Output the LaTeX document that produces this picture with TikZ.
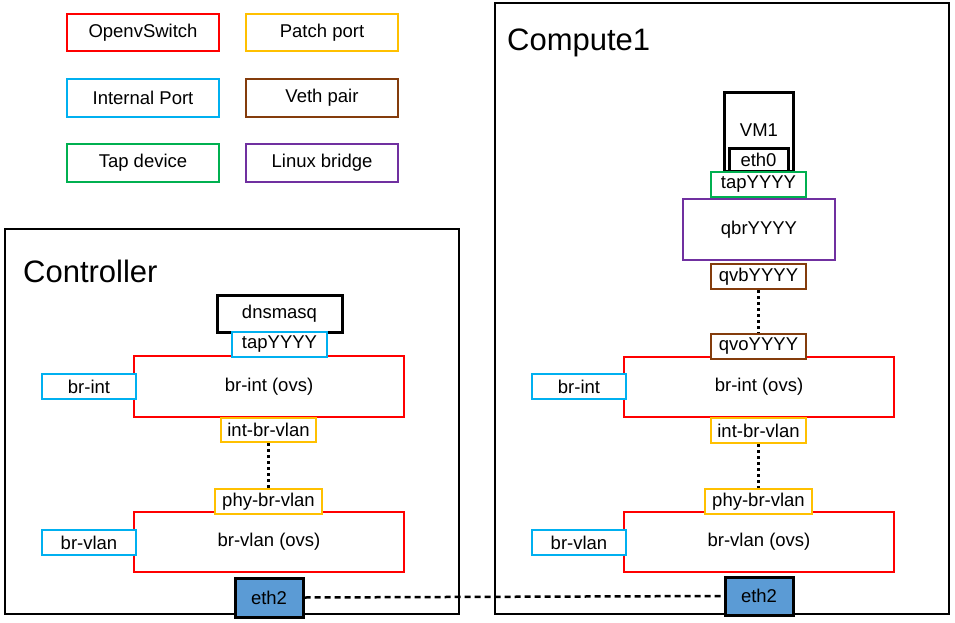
\documentclass[tikz,border=0pt]{standalone}
\usepackage{fontspec}
\setmainfont{Liberation Sans}
\definecolor{cred}{HTML}{FF0000}
\definecolor{cyel}{HTML}{FFC000}
\definecolor{cblue}{HTML}{00B0F0}
\definecolor{cbrown}{HTML}{843C0C}
\definecolor{cgreen}{HTML}{00B050}
\definecolor{cpurple}{HTML}{7030A0}
\definecolor{cfill}{HTML}{5B9BD5}
\begin{document}
\begin{tikzpicture}[x=1pt,y=-1pt,
  bx/.style={draw,rectangle,inner sep=0pt,line width=2.8pt,fill=white,
    font=\fontsize{18.5}{20}\selectfont},
  hostbox/.style={draw,rectangle,inner sep=0pt,line width=2.6pt},
  title/.style={font=\fontsize{31}{34}\selectfont,anchor=base west,inner sep=0pt},
  dotline/.style={line width=3pt,dash pattern=on 3pt off 3pt},
  dashline/.style={line width=2.5pt,dash pattern=on 6pt off 4pt}]
\useasboundingbox (0,0) rectangle (955,623);
% legend
\node[bx,draw=cred,minimum width=152pt,minimum height=37pt] (l1) at (143,32.5) {OpenvSwitch};
\node[bx,draw=cyel,minimum width=152pt,minimum height=37pt] (l2) at (322,32.5) {Patch port};
\node[bx,draw=cblue,minimum width=152pt,minimum height=38pt] (l3) at (143,98) {Internal Port};
\node[bx,draw=cbrown,minimum width=152pt,minimum height=38pt] (l4) at (322,98) {Veth pair};
\node[bx,draw=cgreen,minimum width=152pt,minimum height=38pt] (l5) at (143,163) {Tap device};
\node[bx,draw=cpurple,minimum width=152pt,minimum height=38pt] (l6) at (322,163) {Linux bridge};
% Controller
\node[hostbox,minimum width=454pt,minimum height=385pt] (ctrl) at (232,421.5) {};
\node[title] (ctrltitle) at (23,282) {Controller};
\node[bx,draw=black,line width=3pt,minimum width=125pt,minimum height=37pt] (dns) at (279.5,313.5) {dnsmasq};
\node[bx,draw=cred,minimum width=270pt,minimum height=61pt] (cbrint) at (269,386.5) {br-int (ovs)};
\node[bx,draw=cblue,minimum width=95pt,minimum height=25pt] (ctap) at (279.5,344.5) {tapYYYY};
\node[bx,draw=cblue,minimum width=94pt,minimum height=25pt] (cbrintp) at (89,386.5) {br-int};
\node[bx,draw=cyel,minimum width=95pt,minimum height=24pt] (cintbr) at (268.5,430) {int-br-vlan};
\node[bx,draw=cred,minimum width=270pt,minimum height=60pt] (cbrvlan) at (269,542) {br-vlan (ovs)};
\node[bx,draw=cyel,minimum width=107pt,minimum height=25pt] (cphy) at (268.5,501.5) {phy-br-vlan};
\node[bx,draw=cblue,minimum width=94pt,minimum height=25pt] (cbrvlanp) at (89,542.5) {br-vlan};
\node[bx,draw=black,fill=cfill,line width=3pt,minimum width=68pt,minimum height=39pt] (ceth2) at (269,597.5) {eth2};
% Compute1
\node[hostbox,minimum width=454pt,minimum height=611pt] (comp) at (722,308.5) {};
\node[title] (comptitle) at (507,51) {Compute1};
\node[bx,draw=black,line width=3pt,minimum width=69pt,minimum height=78pt] (vm) at (758.5,132) {};
\node[font=\fontsize{18.5}{20}\selectfont,inner sep=0pt] (vmlabel) at (759,130) {VM1};
\node[bx,draw=black,line width=3pt,minimum width=59pt,minimum height=23pt] (eth0) at (758.5,159.5) {eth0};
\node[bx,draw=cgreen,minimum width=95pt,minimum height=25pt] (ktap) at (758.5,184.5) {tapYYYY};
\node[bx,draw=cpurple,minimum width=152pt,minimum height=61pt] (qbr) at (759,229.5) {qbrYYYY};
\node[bx,draw=cbrown,minimum width=95pt,minimum height=25pt] (qvb) at (758.5,276.5) {qvbYYYY};
\node[bx,draw=cred,minimum width=270pt,minimum height=60pt] (kbrint) at (759,387) {br-int (ovs)};
\node[bx,draw=cbrown,minimum width=95pt,minimum height=25pt] (qvo) at (758.5,346.5) {qvoYYYY};
\node[bx,draw=cblue,minimum width=94pt,minimum height=25pt] (kbrintp) at (579,386.5) {br-int};
\node[bx,draw=cyel,minimum width=95pt,minimum height=25pt] (kintbr) at (758.5,430.5) {int-br-vlan};
\node[bx,draw=cred,minimum width=270pt,minimum height=60pt] (kbrvlan) at (759,542) {br-vlan (ovs)};
\node[bx,draw=cyel,minimum width=107pt,minimum height=25pt] (kphy) at (758.5,501.5) {phy-br-vlan};
\node[bx,draw=cblue,minimum width=94pt,minimum height=25pt] (kbrvlanp) at (579,542.5) {br-vlan};
\node[bx,draw=black,fill=cfill,line width=3pt,minimum width=68pt,minimum height=38pt] (keth2) at (759,596) {eth2};
% connectors
\draw[dotline] (cintbr.south) -- (cphy.north);
\draw[dotline] (qvb.south) -- (qvo.north);
\draw[dotline] (kintbr.south) -- (kphy.north);
\draw[dashline] (ceth2.east) -- (keth2.west);
\end{tikzpicture}
\end{document}
